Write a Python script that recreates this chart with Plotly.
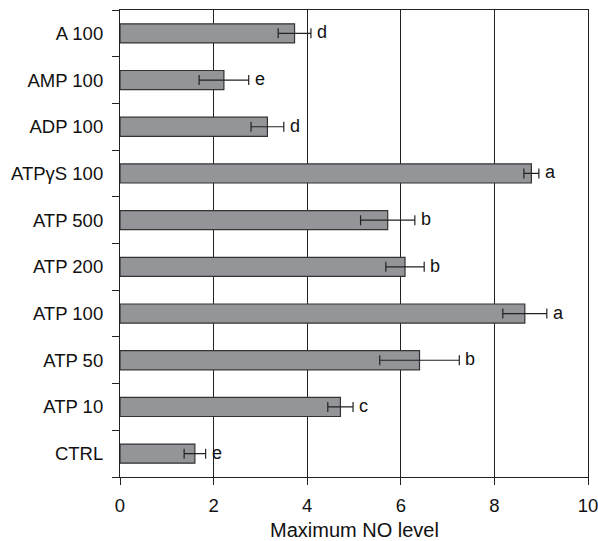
import plotly.graph_objects as go

categories = ["CTRL", "ATP 10", "ATP 50", "ATP 100", "ATP 200", "ATP 500",
              "ATPγS 100", "ADP 100", "AMP 100", "A 100"]
values = [1.60, 4.71, 6.40, 8.65, 6.09, 5.72, 8.79, 3.15, 2.22, 3.73]
errors = [0.23, 0.27, 0.85, 0.47, 0.41, 0.58, 0.16, 0.35, 0.53, 0.35]
letters = ["e", "c", "b", "a", "b", "b", "a", "d", "e", "d"]
x_ticks = [0, 2, 4, 6, 8, 10]
x_title = "Maximum NO level"

FONT = "Liberation Sans, Arial, sans-serif"
fig = go.Figure()
fig.add_trace(go.Bar(
    y=categories, x=values, orientation="h",
    marker=dict(color="#939598", line=dict(color="#333333", width=1.2)),
    width=0.41,
    error_x=dict(type="data", array=errors, color="#222222", thickness=1.2, width=5),
    showlegend=False,
))
for c, v, e, t in zip(categories, values, errors, letters):
    fig.add_annotation(x=v + e, y=c, text=t, showarrow=False, xanchor="left",
                       xshift=4, yshift=1, font=dict(family=FONT, size=18, color="#111111"))

fig.add_annotation(x=0.5, y=0, xref="paper", yref="paper", text=x_title,
                   showarrow=False, xanchor="center", yanchor="middle", yshift=-53,
                   font=dict(family=FONT, size=20, color="#111111"))

fig.update_layout(
    width=598, height=541,
    margin=dict(l=120, r=10, t=10, b=64),
    plot_bgcolor="white", paper_bgcolor="white",
    font=dict(family=FONT, size=18.5, color="#111111"),
    bargap=0.59,
)
fig.update_xaxes(
    range=[0, 10], tickvals=x_ticks, ticktext=[str(v) for v in x_ticks],
    showgrid=True, gridcolor="#222222", gridwidth=1,
    showline=True, linecolor="#222222", linewidth=1.2, mirror=True,
    ticks="outside", ticklen=7, tickcolor="#222222",
    zeroline=False, automargin=False, ticklabeloverflow="allow",
    ticklabelstandoff=5,
)
fig.update_yaxes(
    type="category", categoryorder="array", categoryarray=categories,
    tickson="boundaries", ticks="outside", ticklen=7, tickcolor="#222222",
    showline=True, linecolor="#222222", linewidth=1.2, mirror=True,
    showgrid=False, ticklabelstandoff=12, automargin=False,
)
fig.write_html("out.html")
